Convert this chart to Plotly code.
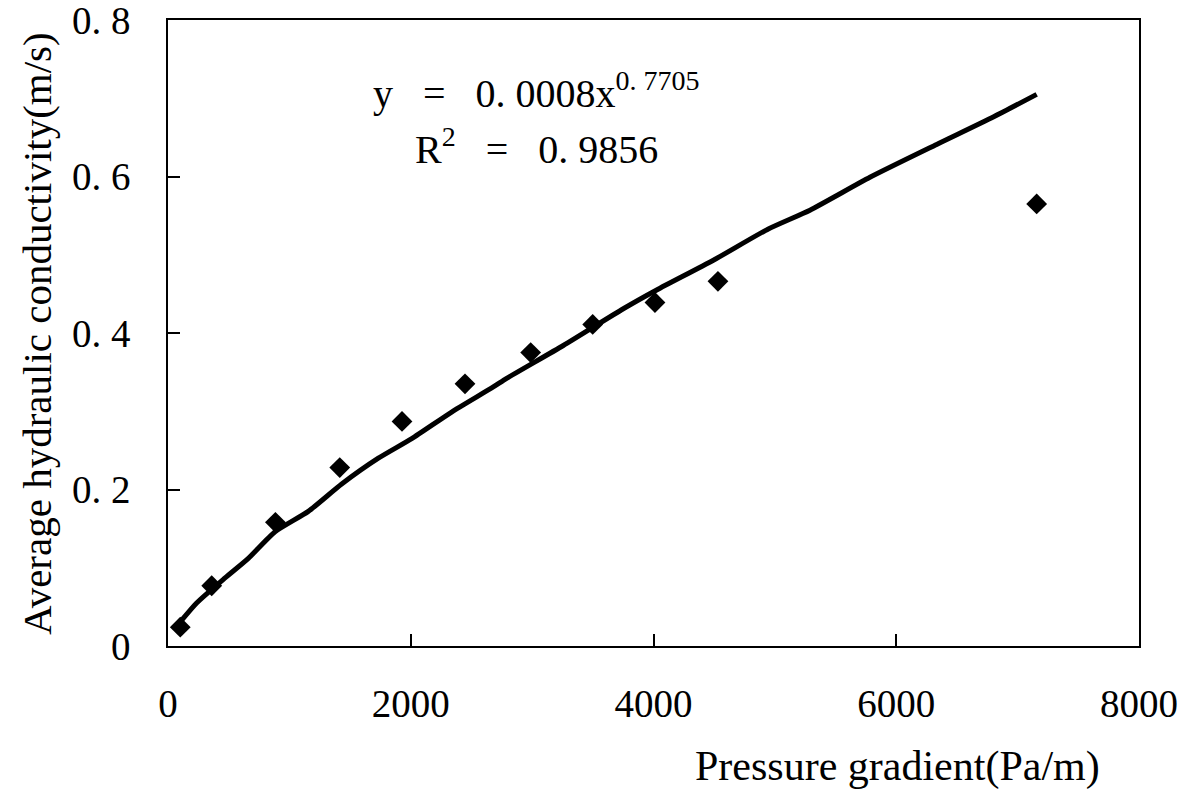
import plotly.graph_objects as go

# measured points
grad = [101, 360, 885, 1415, 1928, 2447, 2988, 3499, 4012, 4531, 7157]
cond = [0.024, 0.077, 0.158, 0.228, 0.287, 0.335, 0.375, 0.411, 0.439, 0.466, 0.565]

# power trendline as drawn in the picture
trend_x = [113, 236, 470, 662, 882, 1156, 1431, 1733, 2008, 2337, 2680, 2790,
           3257, 3751, 4026, 4493, 4946, 5289, 5783, 6333, 6799, 7157]
trend_y = [0.033, 0.055, 0.087, 0.112, 0.146, 0.172, 0.207, 0.240, 0.265, 0.299,
           0.331, 0.342, 0.384, 0.431, 0.455, 0.493, 0.533, 0.557, 0.599, 0.641,
           0.676, 0.705]

x_ticks = [0, 2000, 4000, 6000, 8000]
y_ticks = [0, 0.2, 0.4, 0.6, 0.8]
y_labels = ["0", "0. 2", "0. 4", "0. 6", "0. 8"]

serif = "Liberation Serif, Times New Roman, serif"

fig = go.Figure()
fig.add_trace(go.Scatter(
    x=trend_x, y=trend_y, mode="lines",
    line=dict(color="black", width=5, shape="spline", smoothing=0.6),
    showlegend=False, hoverinfo="skip",
))
fig.add_trace(go.Scatter(
    x=grad, y=cond, mode="markers",
    marker=dict(symbol="diamond", size=16, color="black"),
    showlegend=False,
))

axis_common = dict(
    showgrid=False, zeroline=False, showline=True, mirror=True,
    linecolor="black", linewidth=1.5, ticks="inside", ticklen=12,
    tickcolor="black", tickwidth=1.5, automargin=False,
    ticklabeloverflow="allow",
    tickfont=dict(family=serif, size=39, color="black"),
)
fig.update_xaxes(range=[0, 8000], tickvals=x_ticks, ticklabelstandoff=22,
                 **axis_common)
fig.update_yaxes(range=[0, 0.8], tickvals=y_ticks, ticktext=y_labels,
                 ticklabelstandoff=28, **axis_common)

fig.add_annotation(
    text="y   =   0. 0008x<sup>0. 7705</sup>", xref="paper", yref="paper",
    x=0.38, y=0.887, showarrow=False, xanchor="center", yanchor="middle",
    font=dict(family=serif, size=40, color="black"),
)
fig.add_annotation(
    text="R<sup>2</sup>   =   0. 9856", xref="paper", yref="paper",
    x=0.38, y=0.798, showarrow=False, xanchor="center", yanchor="middle",
    font=dict(family=serif, size=40, color="black"),
)
fig.add_annotation(
    text="Pressure gradient(Pa/m)", xref="paper", yref="paper",
    x=0.962, y=-0.192, showarrow=False, xanchor="right", yanchor="middle",
    font=dict(family=serif, size=42, color="black"),
)
fig.add_annotation(
    text="Average hydraulic conductivity(m/s)", xref="paper", yref="paper",
    x=-0.135, y=0.5, showarrow=False, textangle=-90,
    xanchor="center", yanchor="middle",
    font=dict(family=serif, size=41, color="black"),
)

# the page adds an 8px body margin, so the figure is 8px smaller
fig.update_layout(
    width=1183, height=799,
    margin=dict(l=160, r=52, t=12, b=161),
    paper_bgcolor="white", plot_bgcolor="white",
)

fig.write_html("out.html")
